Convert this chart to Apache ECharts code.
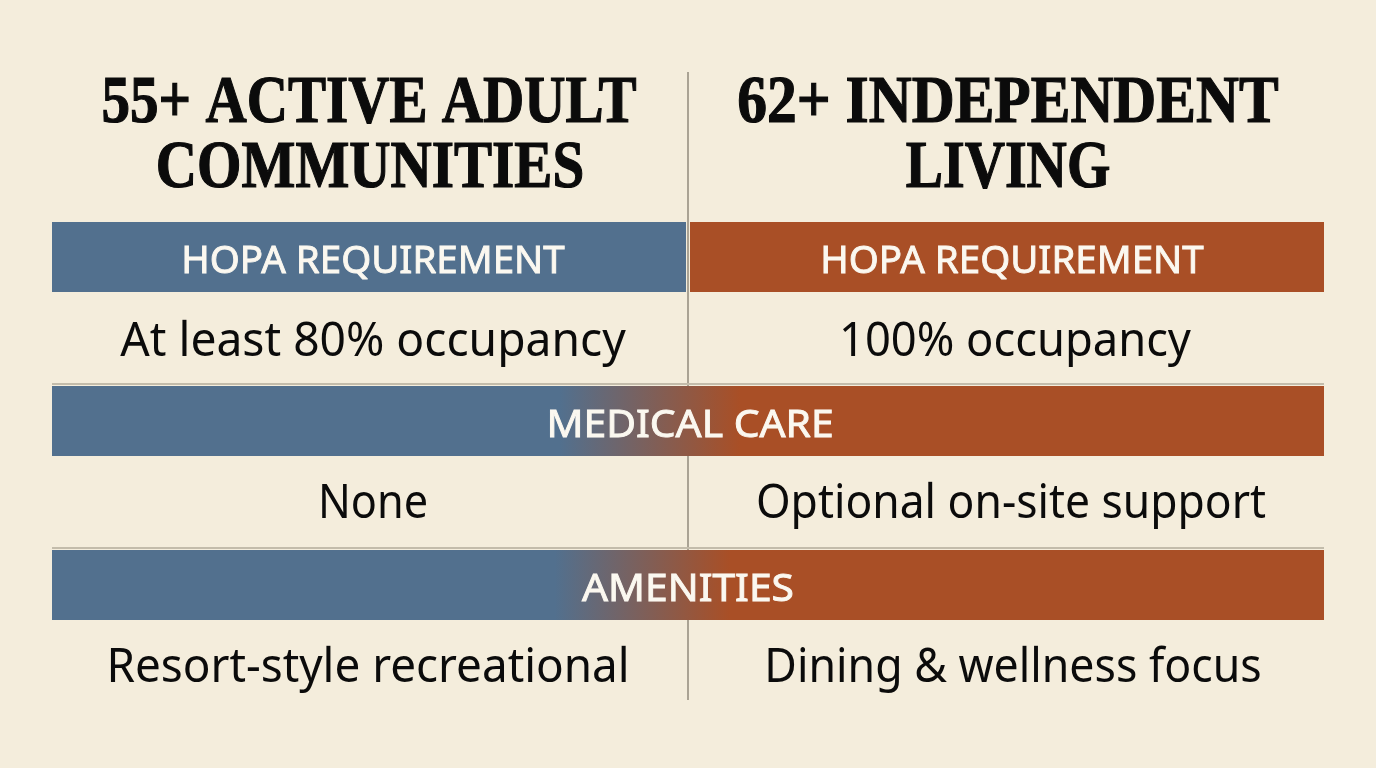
<!DOCTYPE html>
<html><head><meta charset="utf-8">
<style>html,body{margin:0;padding:0;background:#f4eddc}#c{width:1376px;height:768px}</style>
<script src="https://cdn.jsdelivr.net/npm/echarts@6/dist/echarts.min.js"></script>
</head><body><div id="c"></div>
<script>
const columnTitles = [['55+ ACTIVE ADULT','COMMUNITIES'],['62+ INDEPENDENT','LIVING']];
const sectionLabels = ['HOPA REQUIREMENT','MEDICAL CARE','AMENITIES'];
const leftValues = ['At least 80% occupancy','None','Resort-style recreational'];
const rightValues = ['100% occupancy','Optional on-site support','Dining & wellness focus'];

const BG='#f4eddc',BLUE='#52708e',RUST='#a94f26',INK='#0b0b0b',RULE='#aaa394',LABEL='#fbf8f0';
const X0=52,X1=1324,XM=688;
const bandTop=[222,386,550],bandH=70,ruleY=[384,548];
const SERIF='"Liberation Serif",serif',SANS='"Noto Sans",sans-serif';
// layout: [centre x, centre y, horizontal fit]
const titleLayout=[[[369,104,0.84],[370,169,0.84]],[[1008,104,0.875],[1008,169,0.82]]];
const leftLayout=[[373,342,0.962],[373,504,0.90],[368,668,0.955]];
const rightLayout=[[1015,342,0.943],[1011,504,0.925],[1013,668,0.93]];
const labelLayout=[[373,262,1.013],[1012,262,1.013],[690,426,1.074],[688,590,1.072]];
const chart=echarts.init(document.getElementById('c'),null,{renderer:'canvas'});

function txt(api,l,text,font,fill,extra){
  const p=api.coord([l[0],l[1]]);
  return {type:'text',x:p[0],y:p[1],scaleX:l[2],style:Object.assign({text,fill,font,align:'center',verticalAlign:'middle'},extra||{})};
}
function rect(api,x0,y0,x1,y1,fill){
  const a=api.coord([x0,y0]),b=api.coord([x1,y1]);
  return {type:'rect',shape:{x:a[0],y:a[1],width:b[0]-a[0],height:b[1]-a[1]},style:{fill}};
}
function blend(s0,s1){
  return new echarts.graphic.LinearGradient(0,0,1,0,[{offset:0,color:BLUE},{offset:(s0-X0)/(X1-X0),color:BLUE},{offset:(s1-X0)/(X1-X0),color:RUST},{offset:1,color:RUST}]);
}
function renderItem(params,api){
  const ch=[];
  ch.push(rect(api,XM-1,72,XM+1,700,RULE));
  ruleY.forEach(y=>ch.push(rect(api,X0,y-1,X1,y+1,'#c3bcab')));
  ch.push(rect(api,X0,bandTop[0],686,bandTop[0]+bandH,BLUE));
  ch.push(rect(api,690,bandTop[0],X1,bandTop[0]+bandH,RUST));
  ch.push(rect(api,X0,bandTop[1],X1,bandTop[1]+bandH,blend(560,740)));
  ch.push(rect(api,X0,bandTop[2],X1,bandTop[2]+bandH,blend(555,730)));
  columnTitles.forEach((lines,c)=>lines.forEach((t,i)=>{
    ch.push(txt(api,titleLayout[c][i],t,`700 68px ${SERIF}`,INK,{stroke:INK,lineWidth:1.2}));
  }));
  [0,0,1,2].forEach((s,i)=>ch.push(txt(api,labelLayout[i],sectionLabels[s],`400 38px ${SANS}`,LABEL,{stroke:LABEL,lineWidth:0.9})));
  leftValues.forEach((t,i)=>ch.push(txt(api,leftLayout[i],t,`400 48px ${SANS}`,INK)));
  rightValues.forEach((t,i)=>ch.push(txt(api,rightLayout[i],t,`400 48px ${SANS}`,INK)));
  return {type:'group',children:ch};
}
chart.setOption({
  animation:false,backgroundColor:BG,
  grid:{left:0,right:0,top:0,bottom:0},
  xAxis:{type:'value',min:0,max:1376,show:false},
  yAxis:{type:'value',min:0,max:768,inverse:true,show:false},
  series:[{type:'custom',coordinateSystem:'cartesian2d',data:[[0,0]],renderItem,clip:false,silent:true}]
});
</script></body></html>
